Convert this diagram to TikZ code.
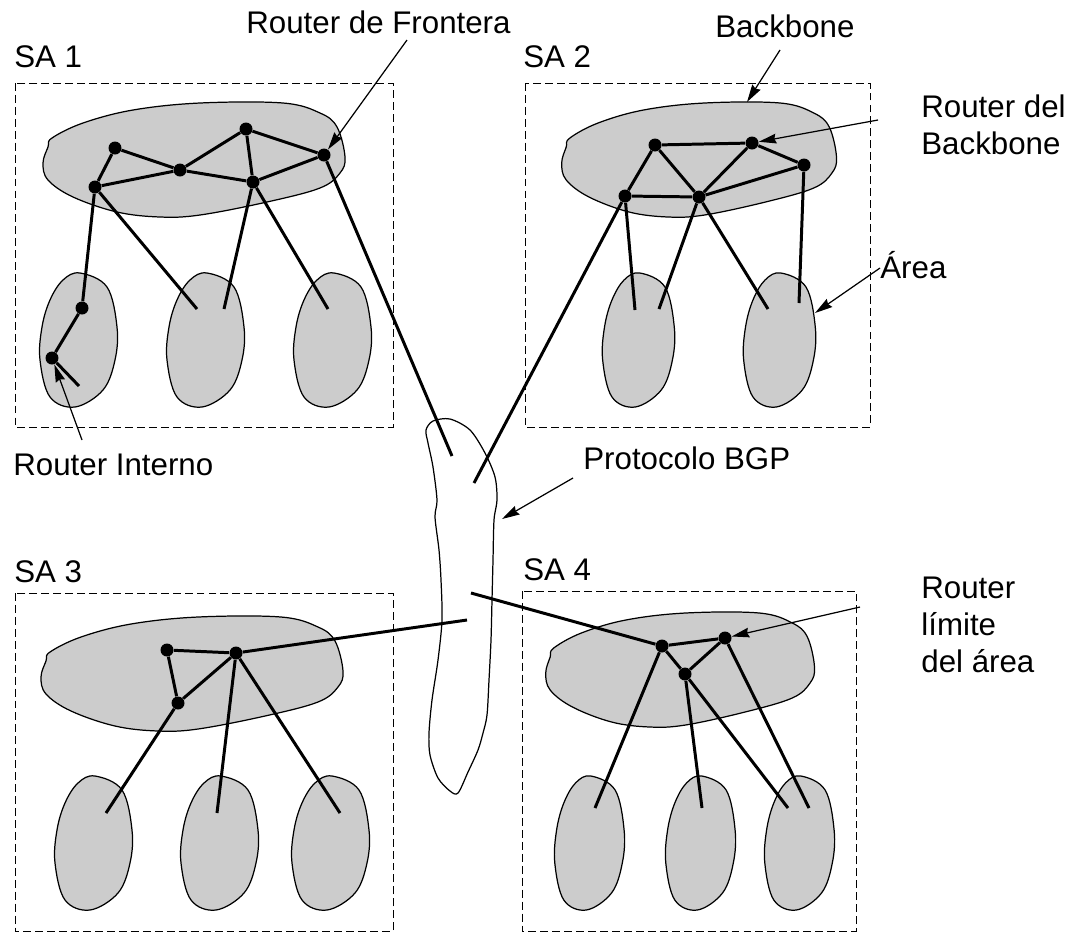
\documentclass[tikz,border=0pt]{standalone}
\usepackage{fontspec}
\setmainfont{Liberation Sans}
\usepackage{tikz}
\usetikzlibrary{arrows.meta}
\tikzset{
    router/.style={
           circle,
           fill=black,
           inner sep=0pt,
           minimum size=0.26cm,
           },
    link/.style={line width=1.7pt},
    blob/.style={draw=black, fill=black!20, line width=0.7pt},
    sabox/.style={draw=black, line width=0.5pt, dash pattern=on 4.5pt off 2.3pt},
    txt/.style={
           inner sep=0pt,
           anchor=base west,
           align=left,
           font=\fontsize{17.8}{21}\selectfont,
           },
    pointer/.style={->, line width=0.7pt},
}

% backbone: centre x, centre y, horizontal scale
\newcommand{\backboneblob}[3]{%
 \draw[blob, shift={(#1,#2)}, xscale=#3] plot[smooth cycle, tension=0.6] coordinates
  {(-143,-22) (-112,-37) (-62,-50) (5,-57) (88,-57) (125,-47) (142,-33) (150,-3)
   (145,13) (125,28) (72,42) (5,55) (-35,57) (-78,52) (-122,37) (-147,20) (-152,3) (-147,-13)};}
% area: centre x, centre y, horizontal scale
\newcommand{\areablob}[3]{%
 \draw[blob, shift={(#1,#2)}, xscale=#3] plot[smooth cycle, tension=0.6] coordinates
  {(2,-67) (29,-53) (39,-13) (37,20) (25,50) (-3,67) (-28,57) (-38,20) (-36,-13) (-28,-40) (-15,-60)};}

\begin{document}
\begin{tikzpicture}[x=0.02cm, y=-0.02cm, >={Stealth[length=10pt,width=5.5pt,inset=1pt]}]
 \useasboundingbox (0,0) rectangle (1070,934);

 % the four systems
 \draw[sabox] (15,83) rectangle (393,427);
 \draw[sabox] (525,83) rectangle (870,427);
 \draw[sabox] (15,593) rectangle (393,931);
 \draw[sabox] (522,591) rectangle (856,931);
 \node[txt] (sa1) at (14,67) {SA 1};
 \node[txt] (sa2) at (523,67) {SA 2};
 \node[txt] (sa3) at (14,582) {SA 3};
 \node[txt] (sa4) at (523,580) {SA 4};

 % backbones and areas
 \backboneblob{195}{160}{1}
 \backboneblob{700}{160}{0.91}
 \backboneblob{193}{674}{1}
 \backboneblob{681}{670}{0.89}
 \foreach \cx in {78,205,332} {\areablob{\cx}{340}{1}}
 \foreach \cx in {638,779} {\areablob{\cx}{340}{0.93}}
 \foreach \cx in {93,219,330} {\areablob{\cx}{843}{1}}
 \foreach \cx in {589,700,799} {\areablob{\cx}{843}{0.9}}

 % BGP cloud
 \draw[line width=0.7pt] plot[smooth cycle, tension=0.5] coordinates
  {(426,430) (433,421) (450,419) (470,430) (485,453) (495,477) (497,500) (494,520)
   (493,560) (492,600) (491,640) (489,680) (487,715) (483,733) (478,750) (468,772)
   (458,793) (450,791) (438,778) (430,755) (429,733) (432,700) (438,660) (442,620)
   (441,580) (439,550) (435,517) (437,500) (433,467) (428,443)};

 % SA 1 routers
 \node[router] (s1a) at (115,148) {};
 \node[router] (s1b) at (95,187) {};
 \node[router] (s1c) at (180,170) {};
 \node[router] (s1d) at (246,129) {};
 \node[router] (s1e) at (253,182) {};
 \node[router] (s1f) at (324,155) {};
 \node[router] (s1g) at (82,308) {};
 \node[router] (s1h) at (52,358) {};
 \coordinate (s1x1) at (79,386);
 \coordinate (s1x2) at (197,309);
 \coordinate (s1x3) at (224,309);
 \coordinate (s1x4) at (328,309);
 \coordinate (bgp1) at (452,456);

 % SA 2 routers
 \node[router] (s2a) at (655,145) {};
 \node[router] (s2b) at (752,143) {};
 \node[router] (s2c) at (804,165) {};
 \node[router] (s2d) at (625,196) {};
 \node[router] (s2e) at (699,197) {};
 \coordinate (s2x1) at (635,310);
 \coordinate (s2x2) at (659,309);
 \coordinate (s2x3) at (768,309);
 \coordinate (s2x4) at (799,303);
 \coordinate (bgp2) at (474,483);

 % SA 3 routers
 \node[router] (s3a) at (167,650) {};
 \node[router] (s3b) at (236,653) {};
 \node[router] (s3c) at (178,703) {};
 \coordinate (s3x1) at (106,813);
 \coordinate (s3x2) at (217,813);
 \coordinate (s3x3) at (340,813);
 \coordinate (bgp3) at (467,620);

 % SA 4 routers
 \node[router] (s4a) at (662,646) {};
 \node[router] (s4b) at (725,638) {};
 \node[router] (s4c) at (685,674) {};
 \coordinate (s4x1) at (595,808);
 \coordinate (s4x2) at (702,808);
 \coordinate (s4x3) at (788,808);
 \coordinate (s4x4) at (809,808);
 \coordinate (bgp4) at (471,593);

 % links
 \draw[link] (s1a) -- (s1c) (s1a) -- (s1b) (s1b) -- (s1c) (s1c) -- (s1d)
             (s1c) -- (s1e) (s1d) -- (s1e) (s1d) -- (s1f) (s1e) -- (s1f)
             (s1b) -- (s1g) (s1g) -- (s1h) (s1h) -- (s1x1) (s1b) -- (s1x2)
             (s1e) -- (s1x3) (s1e) -- (s1x4) (s1f) -- (bgp1);
 \draw[link] (s2a) -- (s2b) (s2b) -- (s2c) (s2a) -- (s2d) (s2a) -- (s2e)
             (s2d) -- (s2e) (s2e) -- (s2b) (s2e) -- (s2c)
             (s2d) -- (s2x1) (s2e) -- (s2x2) (s2e) -- (s2x3) (s2c) -- (s2x4)
             (s2d) -- (bgp2);
 \draw[link] (s3a) -- (s3b) (s3a) -- (s3c) (s3c) -- (s3b)
             (s3c) -- (s3x1) (s3b) -- (s3x2) (s3b) -- (s3x3) (s3b) -- (bgp3);
 \draw[link] (s4a) -- (s4b) (s4a) -- (s4c) (s4c) -- (s4b)
             (s4a) -- (s4x1) (s4c) -- (s4x2) (s4c) -- (s4x3) (s4b) -- (s4x4)
             (s4a) -- (bgp4);

 % labels (base of a multi-line label is its last line)
 \node[txt] (lfront) at (246,33) {Router de Frontera};
 \node[txt] (lbone) at (715,37) {Backbone};
 \node[txt] (lrbone) at (921,154) {Router del\\Backbone};
 \node[txt] (larea) at (880,278) {Área};
 \node[txt] (linter) at (13,475) {Router Interno};
 \node[txt] (lbgp) at (583,469) {Protocolo BGP};
 \node[txt] (llimit) at (921,672) {Router\\límite\\del área};

 % pointers
 \coordinate (pfront) at (407,40);
 \coordinate (pbone) at (780,50);
 \coordinate (tbone) at (747,102);
 \coordinate (prbone) at (878,120);
 \coordinate (parea) at (880,268);
 \coordinate (tarea) at (815,313);
 \coordinate (pinter) at (82,440);
 \coordinate (pbgp) at (573,478);
 \coordinate (tbgp) at (502,519);
 \coordinate (plimit) at (860,607);
 \draw[pointer] (pfront) -- (s1f);
 \draw[pointer] (pbone) -- (tbone);
 \draw[pointer] (prbone) -- (s2b);
 \draw[pointer] (parea) -- (tarea);
 \draw[pointer] (pinter) -- (s1h);
 \draw[pointer] (pbgp) -- (tbgp);
 \draw[pointer] (plimit) -- (s4b);
\end{tikzpicture}
\end{document}
